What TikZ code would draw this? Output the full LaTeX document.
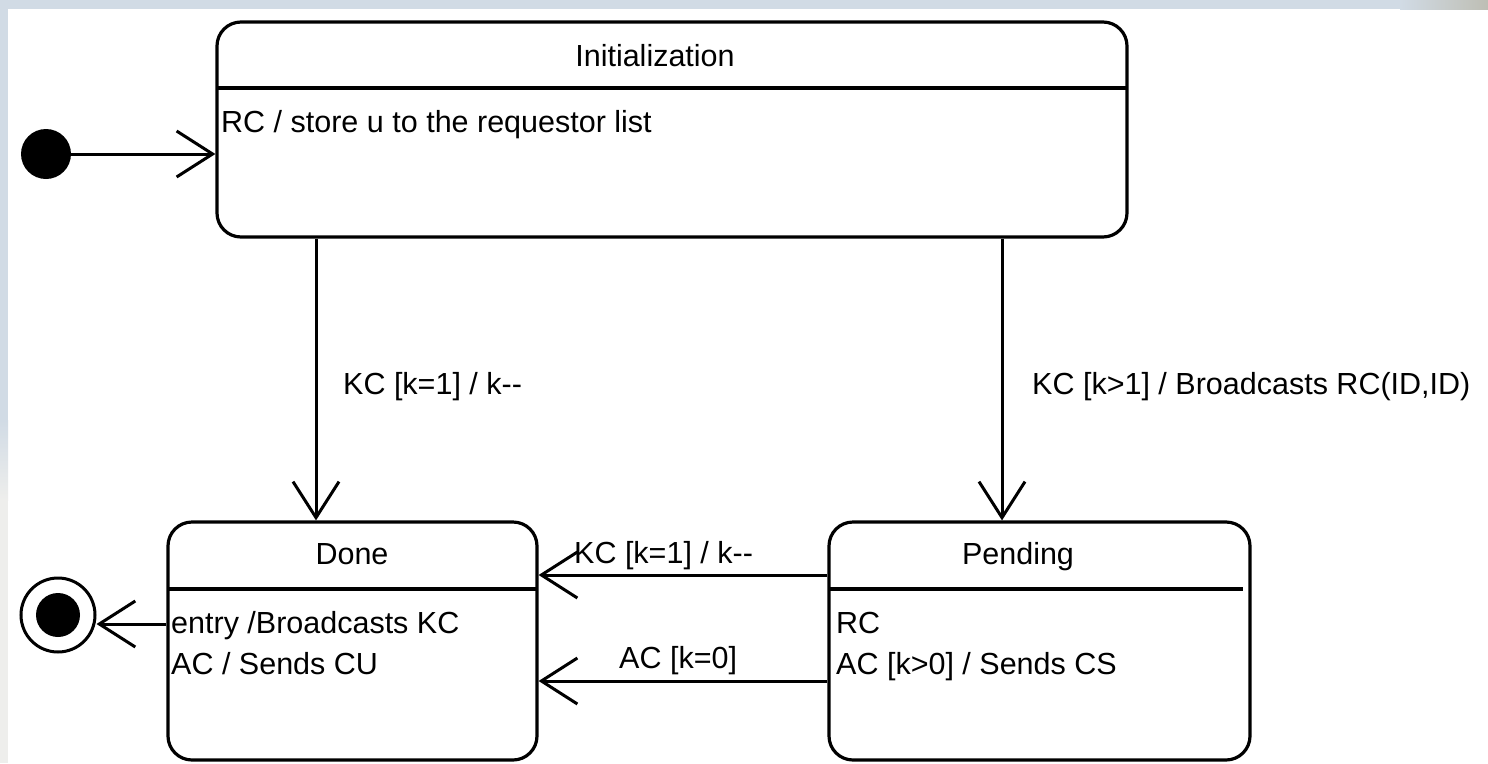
\documentclass[tikz,border=0pt]{standalone}
\usepackage{fontspec}
\setmainfont{Liberation Sans}
\usetikzlibrary{arrows.meta}
\definecolor{bandblue}{RGB}{209,219,229}
\definecolor{bandgray}{RGB}{238,238,236}
\definecolor{bandtex}{RGB}{190,190,180}
\tikzset{
  every node/.style={font=\fontsize{30.5}{36}\selectfont, inner sep=0pt},
  statebox/.style={draw, line width=3.2pt, rounded corners=24pt, rectangle},
  divider/.style={line width=3.2pt},
  arr/.style={line width=3pt, -{Straight Barb[length=36pt, width=46pt, line width=3pt]}},
  lbl/.style={anchor=base west},
}
\begin{document}
\begin{tikzpicture}[x=1pt, y=-1pt]
\useasboundingbox (0,0) rectangle (1488,763);
% background bands
\fill[white] (0,0) rectangle (1488,763);
\fill[bandblue] (0,0) rectangle (1400,9);
\shade[left color=bandblue, right color=bandtex] (1400,0) rectangle (1488,9);
\fill[bandblue] (0,0) rectangle (8,420);
\shade[top color=bandblue, bottom color=bandgray] (0,420) rectangle (8,500);
\fill[bandgray] (0,500) rectangle (8,763);

% states
\node[statebox, minimum width=910pt, minimum height=215pt] (init) at (672,129.5) {};
\draw[divider] (217,88) -- (1127,88);
\node[anchor=base] (initT) at (655,66) {Initialization};
\node[lbl] (initA) at (221,132) {RC / store u to the requestor list};

\node[statebox, minimum width=369pt, minimum height=238pt] (done) at (352.5,641) {};
\draw[divider] (168,589) -- (537,589);
\node[anchor=base] (doneT) at (352,564) {Done};
\node[lbl] (doneA) at (171,633) {entry /Broadcasts KC};
\node[lbl] (doneB) at (171,674) {AC / Sends CU};

\node[statebox, minimum width=421pt, minimum height=238pt] (pend) at (1039.5,641) {};
\draw[divider] (829,589) -- (1243,589);
\node[anchor=base] (pendT) at (1018,564) {Pending};
\node[lbl] (pendA) at (836,633) {RC};
\node[lbl] (pendB) at (836,674) {AC [k>0] / Sends CS};

% pseudo states
\node[circle, fill=black, minimum size=50pt] (start) at (46,154) {};
\node[circle, draw, line width=3pt, minimum size=74pt] (fin) at (58,615) {};
\node[circle, fill=black, minimum size=44pt] (finIn) at (58,615) {};

% helper coordinates
\coordinate (xl) at (316,0);
\coordinate (xr) at (1002,0);
\coordinate (yu) at (0,575);
\coordinate (yd) at (0,681);
\coordinate (yf) at (0,624);

% transitions
\draw[arr] (start) -- (start -| init.west);
\draw[arr] (init.south -| xl) -- (done.north -| xl);
\node[lbl] (l1) at (343,394) {KC [k=1] / k-{}-};
\draw[arr] (init.south -| xr) -- (pend.north -| xr);
\node[lbl] (l2) at (1032,394) {KC [k>1] / Broadcasts RC(ID,ID)};
\draw[arr] (pend.west |- yu) -- (done.east |- yu);
\node[lbl] (l3) at (574,563) {KC [k=1] / k-{}-};
\draw[arr] (pend.west |- yd) -- (done.east |- yd);
\node[lbl] (l4) at (619,668) {AC [k=0]};
\draw[arr] (done.west |- yf) -- (fin.east |- yf);
\end{tikzpicture}
\end{document}
